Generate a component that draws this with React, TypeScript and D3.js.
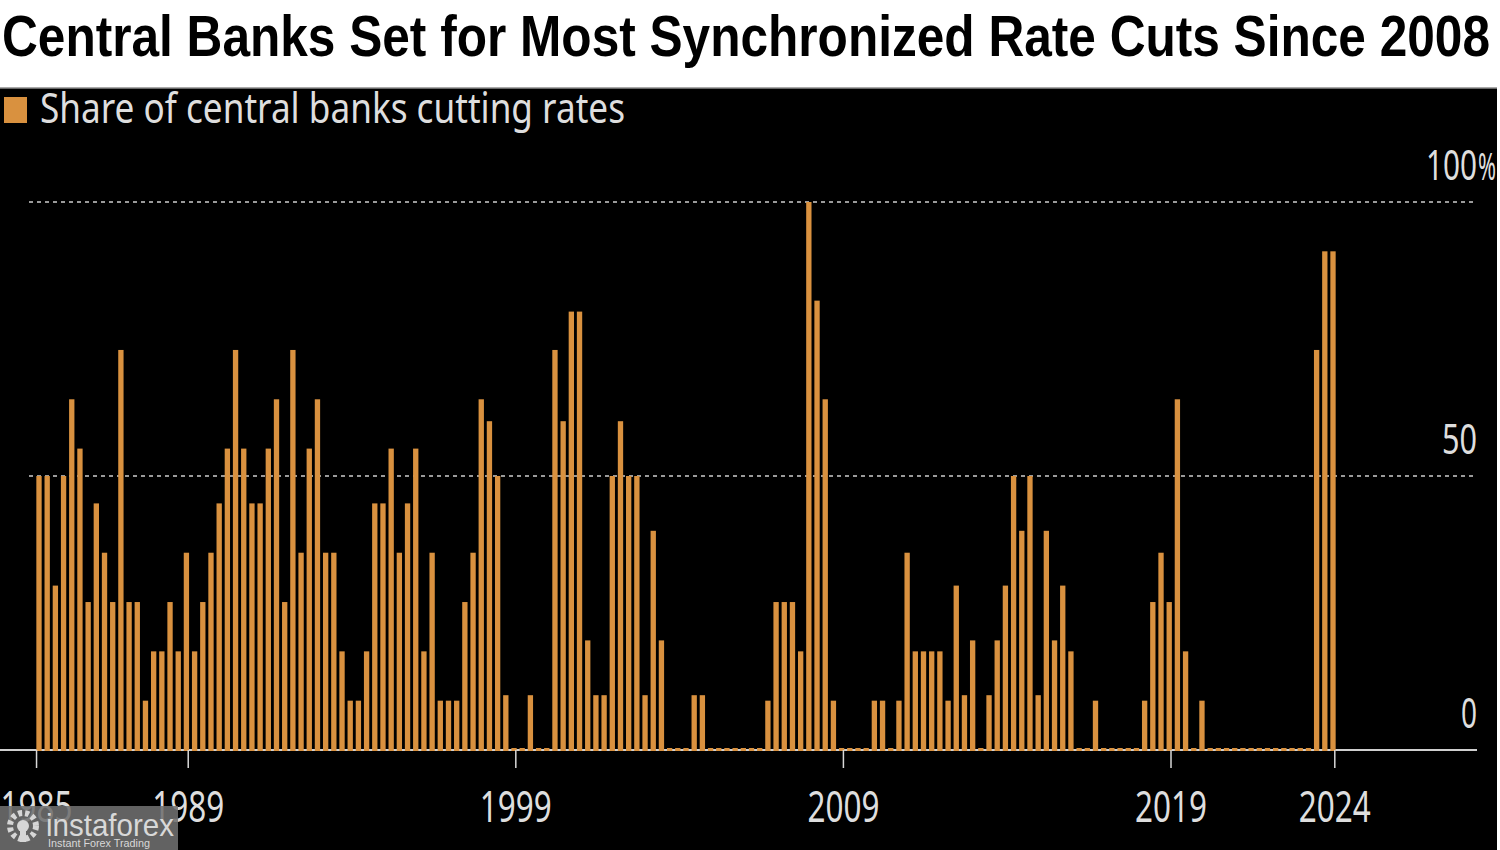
import React from "react";
import * as d3 from "d3";

// Quarterly share of central banks cutting rates (%), 1984 Q2 .. 2023 Q4
const START_YEAR = 1984;
const START_QUARTER = 2;
const shareCutting: number[] = [
  50, 50, 30, 50, 64, 55, 27, 45, 36, 27, 73, 27, 27, 9, 18, 18, 27, 18, 36, 18,
  27, 36, 45, 55, 73, 55, 45, 45, 55, 64, 27, 73, 36, 55, 64, 36, 36, 18, 9, 9,
  18, 45, 45, 55, 36, 45, 55, 18, 36, 9, 9, 9, 27, 36, 64, 60, 50, 10, 0, 0,
  10, 0, 0, 73, 60, 80, 80, 20, 10, 10, 50, 60, 50, 50, 10, 40, 20, 0, 0, 0,
  10, 10, 0, 0, 0, 0, 0, 0, 0, 9, 27, 27, 27, 18, 100, 82, 64, 9, 0, 0,
  0, 0, 9, 9, 0, 9, 36, 18, 18, 18, 18, 9, 30, 10, 20, 0, 10, 20, 30, 50,
  40, 50, 10, 40, 20, 30, 18, 0, 0, 9, 0, 0, 0, 0, 0, 9, 27, 36, 27, 64,
  18, 0, 9, 0, 0, 0, 0, 0, 0, 0, 0, 0, 0, 0, 0, 0, 73, 91, 91,
];

const xTickLabels = ["1985", "1989", "1999", "2009", "2019", "2024"];
const xTickYears = [1984.3, 1989, 1999, 2009, 2019, 2024];
const yTickValues = [0, 50, 100];

const TITLE = "Central Banks Set for Most Synchronized Rate Cuts Since 2008";
const LEGEND = "Share of central banks cutting rates";

const BAR = "#d9913f";
const LABEL = "#dedede";
const LABEL_FONT = "'Noto Sans', 'Open Sans', sans-serif";

export default function App() {
  const W = 1500;
  const H = 850;

  const data = shareCutting.map((v, i) => {
    const q = START_QUARTER - 1 + i;
    const year = START_YEAR + Math.floor(q / 4);
    const quarter = (q % 4) + 1;
    const t = year + (quarter - 1) / 4 + 0.125;
    return { t, v };
  });

  const x = d3
    .scaleLinear()
    .domain([data[0].t, data[data.length - 1].t])
    .range([39, 1333]);
  const y = d3.scaleLinear().domain([0, 100]).range([750, 202]);

  const step = x(data[1].t) - x(data[0].t);
  const bw = step * 0.65;
  const tickShift = -0.07; // ticks sit just left of the year's first bar

  const plotLeft = 29;
  const plotRight = 1477;

  const yLabelLen: Record<number, number> = { 0: 16, 50: 35, 100: 51 };

  return (
    <svg
      width={W}
      height={H}
      style={{ position: "absolute", left: 0, top: 0, display: "block" }}
    >
      <rect x={0} y={0} width={W} height={H} fill="#ffffff" />
      <rect x={0} y={88} width={1497} height={H - 88} fill="#000000" />
      <line x1={0} x2={1497} y1={88} y2={88} stroke="#8c8c8c" strokeWidth={1.5} />

      {/* Title */}
      <text
        x={2}
        y={56}
        fontFamily="'Liberation Sans Narrow', 'Liberation Sans', Arial, sans-serif"
        fontWeight="bold"
        fontSize={57}
        fill="#000"
        textLength={1488}
        lengthAdjust="spacingAndGlyphs"
      >
        {TITLE}
      </text>

      {/* Legend */}
      <rect x={4} y={97} width={23} height={26} fill={BAR} />
      <text
        x={40}
        y={123}
        fontFamily={LABEL_FONT}
        fontSize={42}
        fill={LABEL}
        textLength={585}
        lengthAdjust="spacingAndGlyphs"
      >
        {LEGEND}
      </text>

      {/* Gridlines */}
      {yTickValues
        .filter((v) => v > 0)
        .map((v) => (
          <line
            key={"g" + v}
            x1={plotLeft}
            x2={plotRight}
            y1={y(v)}
            y2={y(v)}
            stroke="#9a9a9a"
            strokeWidth={2}
            strokeDasharray="4 4"
          />
        ))}

      {/* Y labels */}
      {yTickValues.map((v) => (
        <text
          key={"yl" + v}
          x={1477}
          y={y(v) - 22}
          textAnchor="end"
          fontFamily={LABEL_FONT}
          fontSize={42}
          fill={LABEL}
          textLength={yLabelLen[v]}
          lengthAdjust="spacingAndGlyphs"
        >
          {String(v)}
        </text>
      ))}
      <text
        x={1478}
        y={y(100) - 22}
        fontFamily={LABEL_FONT}
        fontSize={38}
        fill={LABEL}
        textLength={18}
        lengthAdjust="spacingAndGlyphs"
      >
        %
      </text>

      {/* Baseline */}
      <line x1={0} x2={plotRight} y1={y(0)} y2={y(0)} stroke="#cfcfcf" strokeWidth={2} />

      {/* Bars */}
      {data.map((d, i) => {
        const top = d.v > 0 ? y(d.v) : y(0) - 2;
        return (
          <rect
            key={i}
            x={x(d.t) - bw / 2}
            y={top}
            width={bw}
            height={y(0) + 1 - top}
            fill={BAR}
          />
        );
      })}

      {/* X ticks and labels */}
      {xTickYears.map((yr, i) => {
        const px = x(yr + (i === 0 ? 0 : tickShift));
        return (
          <g key={"xt" + i}>
            <line
              x1={px}
              x2={px}
              y1={y(0)}
              y2={y(0) + 18}
              stroke="#d8d8d8"
              strokeWidth={1.5}
            />
            <text
              x={px}
              y={822}
              textAnchor="middle"
              fontFamily={LABEL_FONT}
              fontSize={44}
              fill={LABEL}
              textLength={72}
              lengthAdjust="spacingAndGlyphs"
            >
              {xTickLabels[i]}
            </text>
          </g>
        );
      })}

      {/* Watermark */}
      <g>
        <rect x={0} y={806} width={178} height={44} fill="#6f6f6f" opacity={0.88} />
        <circle cx={23} cy={826} r={13} fill="none" stroke="#d6d6d6" strokeWidth={6} strokeDasharray="4 3" />
        <circle cx={23} cy={826} r={6} fill="#d6d6d6" />
        <rect x={20} y={826} width={6} height={16} fill="#d6d6d6" />
        <text
          x={46}
          y={836}
          fontFamily="'Liberation Sans', Arial, sans-serif"
          fontSize={32}
          fill="#d8d8d8"
          textLength={128}
          lengthAdjust="spacingAndGlyphs"
        >
          instaforex
        </text>
        <text
          x={48}
          y={847}
          fontFamily="'Liberation Sans', Arial, sans-serif"
          fontSize={11}
          fill="#d8d8d8"
          textLength={102}
          lengthAdjust="spacingAndGlyphs"
        >
          Instant Forex Trading
        </text>
      </g>
    </svg>
  );
}
